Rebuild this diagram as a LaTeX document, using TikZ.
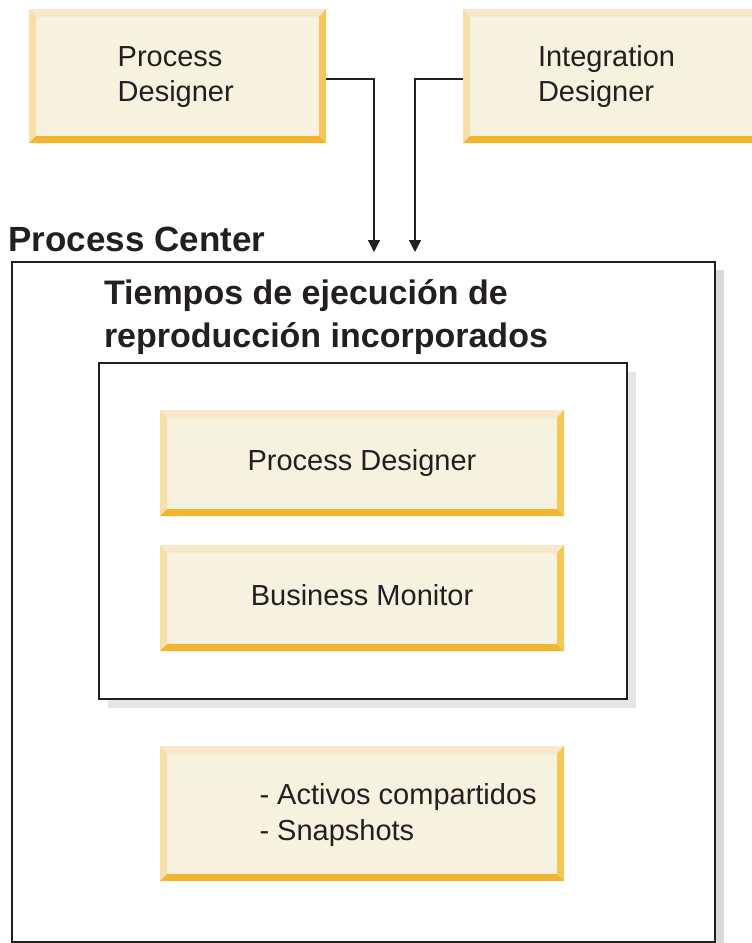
\documentclass[tikz,border=0pt]{standalone}
\usepackage{fontspec}
\setmainfont{Liberation Sans}
\usetikzlibrary{arrows.meta}
\definecolor{cmid}{HTML}{F7F1E0}
\definecolor{ctop}{HTML}{F6E8C8}
\definecolor{cleft}{HTML}{F6DFA8}
\definecolor{cright}{HTML}{F3C85A}
\definecolor{cbot}{HTML}{F2B530}
\definecolor{cink}{HTML}{231F20}
\definecolor{cshadA}{HTML}{D9D9D9}
\definecolor{cshadB}{HTML}{E6E6E6}
\tikzset{
  bevbox/.style={rectangle, draw=none, fill=cmid, inner sep=0pt, outer sep=0pt, anchor=north west,
    path picture={
      \fill[ctop] (path picture bounding box.north west) -- (path picture bounding box.north east)
        -- ([shift={(-7pt,-8pt)}]path picture bounding box.north east) -- ([shift={(7pt,-8pt)}]path picture bounding box.north west) -- cycle;
      \fill[cleft] (path picture bounding box.north west) -- ([shift={(7pt,-8pt)}]path picture bounding box.north west)
        -- ([shift={(7pt,7pt)}]path picture bounding box.south west) -- (path picture bounding box.south west) -- cycle;
      \fill[cright] (path picture bounding box.north east) -- ([shift={(-7pt,-8pt)}]path picture bounding box.north east)
        -- ([shift={(-7pt,7pt)}]path picture bounding box.south east) -- (path picture bounding box.south east) -- cycle;
      \fill[cbot] (path picture bounding box.south west) -- ([shift={(7pt,7pt)}]path picture bounding box.south west)
        -- ([shift={(-7pt,7pt)}]path picture bounding box.south east) -- (path picture bounding box.south east) -- cycle;
    }},
  reg/.style={inner sep=0pt, outer sep=0pt, text=cink, font=\fontsize{29}{35}\selectfont},
  bld/.style={inner sep=0pt, outer sep=0pt, text=cink, font=\fontsize{34}{43}\selectfont\bfseries},
  frame/.style={draw=cink, line width=2pt, fill=white},
  arr/.style={draw=cink, line width=1.4pt, -{Triangle[width=12pt,length=12pt]}}
}
\begin{document}
\begin{tikzpicture}[x=1pt, y=-1pt]
\clip (0,0) rectangle (752,943);
\fill[white] (0,0) rectangle (752,943);

% top boxes
\node[bevbox, minimum width=297pt, minimum height=134pt] (pdtop) at (29,9) {};
\node[bevbox, minimum width=310pt, minimum height=134pt] (idtop) at (463,9) {};
\node[reg, anchor=base west] (pdtopA) at (117.7,66.7) {Process};
\node[reg, anchor=base west] (pdtopB) at (117.7,101.7) {Designer};
\node[reg, anchor=base west] (idtopA) at (538,66.7) {Integration};
\node[reg, anchor=base west] (idtopB) at (538,101.7) {Designer};

% outer container
\fill[cshadA] (714,270) rectangle (724,950);
\node[frame, anchor=north west, minimum width=703pt, minimum height=680pt, inner sep=0pt] (pc) at (11,261) {};
\node[bld, font=\fontsize{35}{43}\selectfont\bfseries, anchor=base west] (pclabel) at (8.5,251.7) {Process Center};

% arrows
\coordinate (tipA) at (374,252);
\coordinate (tipB) at (415,252);
\draw[arr] ([yshift=-3pt]pdtop.east) -| (tipA);
\draw[arr] ([yshift=-3pt]idtop.west) -| (tipB);

% inner container
\node[bld, anchor=base west] (rtA) at (104,304) {Tiempos de ejecución de};
\node[bld, anchor=base west] (rtB) at (104,347) {reproducción incorporados};
\fill[cshadB] (108,372) rectangle (636,708);
\node[frame, anchor=north west, minimum width=528pt, minimum height=336pt, inner sep=0pt] (rt) at (98,362) {};

\node[bevbox, minimum width=404pt, minimum height=106pt] (pdin) at (160,410) {};
\node[reg, anchor=base] (pdinT) at (362,470.7) {Process Designer};
\node[bevbox, minimum width=404pt, minimum height=106pt] (bm) at (160,545) {};
\node[reg, anchor=base] (bmT) at (362,605.7) {Business Monitor};

% shared assets
\node[bevbox, minimum width=404pt, minimum height=135pt] (sa) at (160,746) {};
\node[reg, anchor=base west] (saA) at (259.5,804) {- Activos compartidos};
\node[reg, anchor=base west] (saB) at (259.5,840) {- Snapshots};
\end{tikzpicture}
\end{document}
